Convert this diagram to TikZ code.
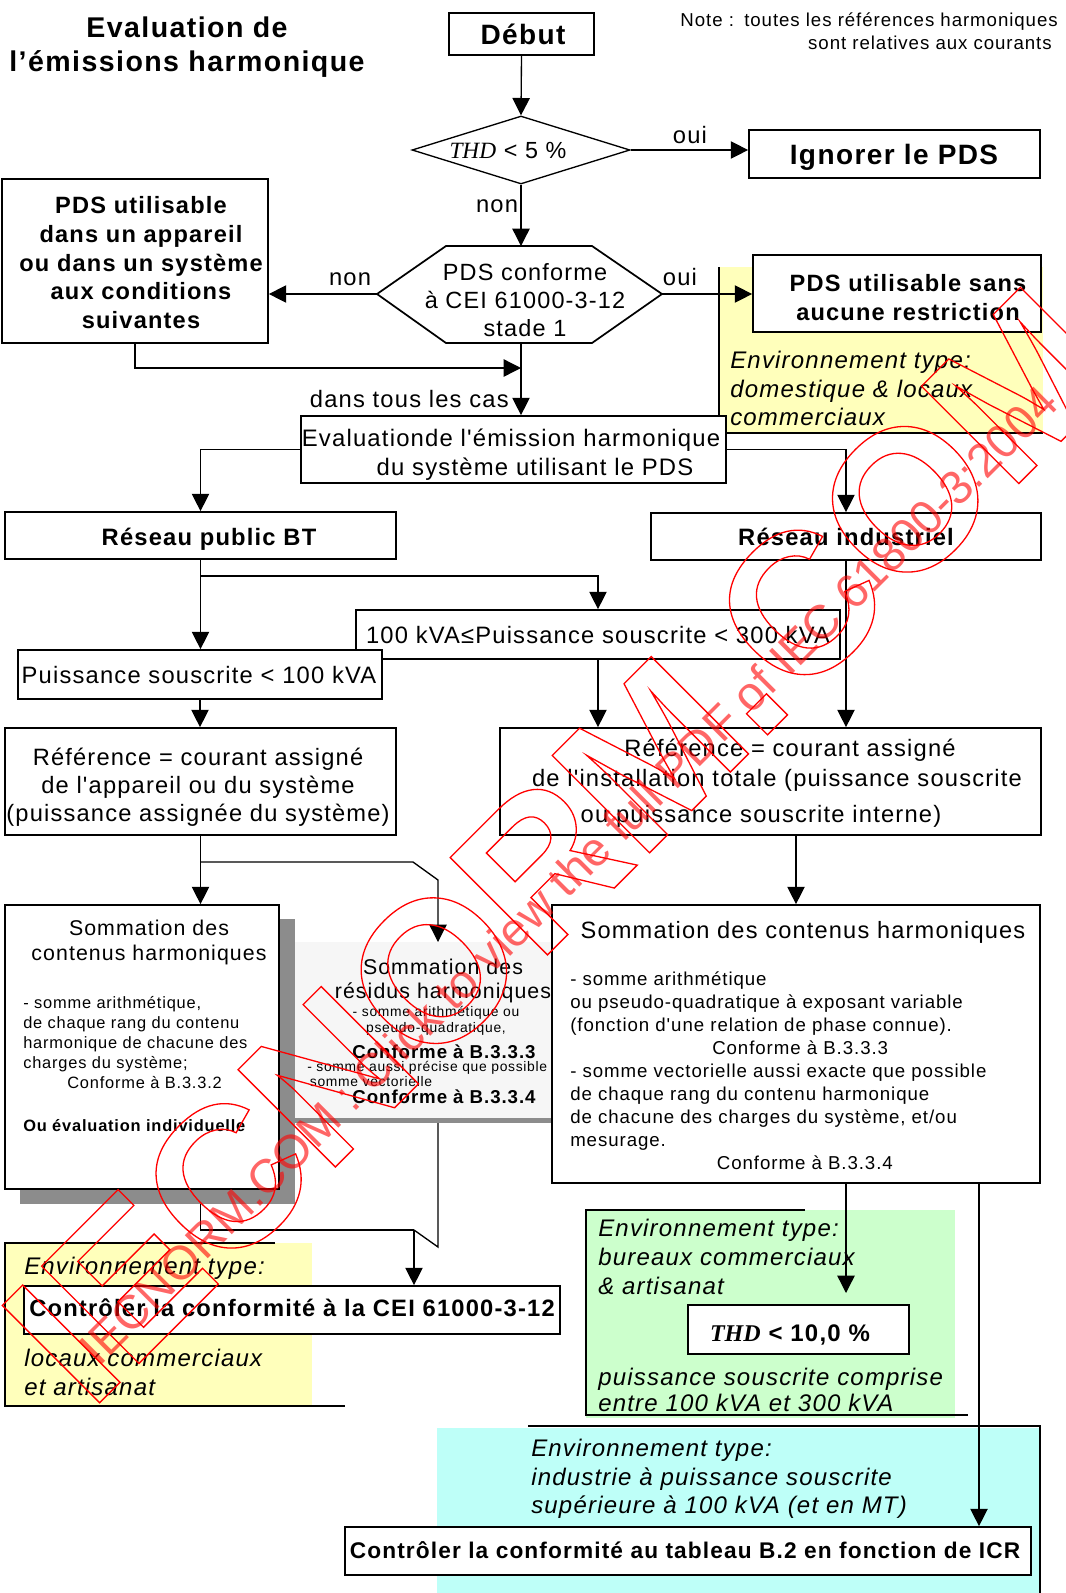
\documentclass[tikz,border=0pt]{standalone}
\usepackage{fontspec}
\usetikzlibrary{arrows.meta,shapes.geometric}
\newfontfamily\af{Liberation Sans}[LetterSpace=5]
\newfontfamily\tf{Liberation Serif}
\newfontfamily\wf{Liberation Sans}
\newfontfamily\wfo{Liberation Sans Bold}[FakeBold=0.65]
\definecolor{envyellow}{RGB}{255,255,187}
\definecolor{envgreen}{RGB}{204,255,204}
\definecolor{envcyan}{RGB}{190,255,248}
\definecolor{shadowgray}{RGB}{140,140,140}
\definecolor{pale}{RGB}{246,246,246}
\definecolor{wmred}{RGB}{255,0,0}
\pgfdeclarelayer{fills}
\pgfdeclarelayer{links}
\pgfdeclarelayer{marks}
\pgfsetlayers{fills,links,main,marks}
% rectangular box given by its corners: [options]{name}{x1}{y1}{x2}{y2}
\newcommand\rbox[6][]{%
  \node[box,#1,minimum width={(#5-#3)*0.75pt},minimum height={(#6-#4)*0.75pt}]
    (#2) at ({(#3+#5)/2},{(#4+#6)/2}) {};}
\begin{document}
\begin{tikzpicture}[x=0.75pt,y=-0.75pt,
  box/.style={draw,line width=1.3pt,fill=white,inner sep=0pt},
  link/.style={line width=1pt},
  arr/.style={link,-{Triangle[length=13pt,width=13pt]}},
  envline/.style={line width=1.2pt},
  txt/.style={inner sep=0pt,anchor=base,align=center},
  ltxt/.style={inner sep=0pt,anchor=base west,align=left},
  rtxt/.style={inner sep=0pt,anchor=base east,align=right},
  fr/.style 2 args={font=\af\fontsize{#1}{#2}\selectfont},
  fb/.style 2 args={font=\af\bfseries\fontsize{#1}{#2}\selectfont},
  fi/.style 2 args={font=\af\itshape\fontsize{#1}{#2}\selectfont},
]
\useasboundingbox (0,0) rectangle (1065,1593);

% ---------- coloured environments and shadows
\begin{pgfonlayer}{fills}
  \fill[envyellow] (719,267) rectangle (1043,433);
  \draw[envline] (719,267) -- (719,433) -- (1043,433);
  \fill[envyellow] (5,1243) rectangle (312,1406);
  \draw[envline] (275,1243) -- (5,1243) -- (5,1406) -- (345,1406);
  \fill[envgreen] (586,1210) rectangle (955,1418);
  \draw[envline] (805,1210) -- (586,1210) -- (586,1415) -- (968,1415);
  \fill[envcyan] (437,1428) rectangle (1040,1593);
  \draw[envline] (528,1426) -- (1040,1426) -- (1040,1593);
  \fill[shadowgray] (20,919) rectangle (295,1204);
  \fill[pale] (295,942) rectangle (552,1118);
  \fill[shadowgray] (295,1118) rectangle (552,1123);
\end{pgfonlayer}

% ---------- boxes
\rbox{debut}{449}{13}{594}{55}
\node[draw,diamond,line width=1pt,fill=white,inner sep=0pt,aspect=3.2,
      minimum width={218*0.75pt},minimum height={68*0.75pt}] (thd) at (521,150) {};
\rbox{ignore}{749}{130}{1040}{178}
\coordinate (hexW) at (377,294);
\coordinate (hexE) at (662,294);
\coordinate (hexN) at (521,246);
\coordinate (hexS) at (521,343);
\draw[line width=1.3pt,fill=white] (hexW) -- (446,246) -- (592,246) -- (hexE)
  -- (592,343) -- (446,343) -- cycle;
\rbox{pdsbox}{2}{179}{268}{343}
\rbox{sansbox}{753}{255}{1041}{332}
\rbox{eval}{301}{416}{726}{483}
\rbox{resBT}{5}{512}{396}{559}
\rbox{resInd}{651}{513}{1041}{560}
\rbox{p300}{356}{610}{840}{659}
\rbox{p100}{18}{650}{382}{699}
\rbox{refL}{5}{728}{396}{835}
\rbox{refR}{500}{728}{1041}{835}
\rbox{sumL}{5}{905}{279}{1189}
\rbox{sumR}{552}{905}{1040}{1183}
\rbox{ctrl}{24}{1286}{560}{1334}
\rbox{thdten}{688}{1305}{909}{1354}
\rbox{final}{345}{1527}{1031}{1575}

% ---------- connector points
\coordinate (merge) at (521,368);
\coordinate (split1) at (200.5,576);
\coordinate (split2) at (200.5,862);
\coordinate (kinkA) at (413,862);
\coordinate (kinkB) at (438,880);
\coordinate (sumMtop) at (438,942);
\coordinate (lout) at (200.5,1204);
\coordinate (lturn) at (200.5,1230);
\coordinate (mout) at (438,1123);
\coordinate (mturn) at (438,1247);
\coordinate (kinkC) at (414,1230);
\coordinate (rout1) at (846,1183);
\coordinate (thdin) at (846,1293);
\coordinate (rout2) at (979,1183);

\begin{pgfonlayer}{links}
  \draw[arr] (debut.south) -- (thd.north);
  \draw[arr] (thd.east) -- (thd.east -| ignore.west);
  \draw[arr] (thd.south) -- (hexN);
  \draw[arr] (hexW) -- (hexW -| pdsbox.east);
  \draw[arr] (hexE) -- (hexE -| sansbox.west);
  \draw[arr] (pdsbox.south) |- (merge);
  \draw[arr] (hexS) -- (hexS |- eval.north);
  \draw[arr] (eval.west) -| (resBT.north);
  \draw[arr] (eval.east) -| (resInd.north);
  \draw[arr] (resBT.south) -- (resBT.south |- p100.north);
  \draw[arr] (split1) -| (p300.north);
  \draw[arr] (p100.south) -- (p100.south |- refL.north);
  \draw[arr] (p300.south) -- (p300.south |- refR.north);
  \draw[arr] (resInd.south) -- (resInd.south |- refR.north);
  \draw[arr] (refL.south) -- (refL.south |- sumL.north);
  \draw[arr] (split2) -- (kinkA) -- (kinkB) -- (sumMtop);
  \draw[arr] (sumR.north |- refR.south) -- (sumR.north);
  \draw[link] (lout) -- (lturn) -- (kinkC);
  \draw[link] (mout) -- (mturn) -- (kinkC);
  \draw[arr] (kinkC) -- (kinkC |- ctrl.north);
  \draw[arr] (rout1) -- (thdin);
  \draw[arr] (rout2) -- (rout2 |- final.north);
\end{pgfonlayer}

% ---------- texts (multi-line nodes are placed by the baseline of their last line)
\node[txt,fb={21.4}{25.2}] (title) at (187,71.2) {Evaluation de\\l’émissions harmonique};
\node[rtxt,fr={14}{17}] (note1) at (1058,26) {Note :\hspace{0.55em}toutes les références harmoniques};
\node[rtxt,fr={14}{17}] (note2) at (1052,49) {sont relatives aux courants};
\node[txt,fb={21}{25}] (debuttxt) at (523,44) {Début};
\node[txt,fr={17.5}{20}] (thdtxt) at (508,158) {{\tf\itshape THD} < 5 \%};
\node[txt,fb={21}{25}] (ignoretxt) at (894,164) {Ignorer le PDS};
\node[txt,fr={17.8}{21}] (oui1) at (690,143) {oui};
\node[txt,fr={17.8}{21}] (non1) at (497,212) {non};
\node[txt,fr={17.8}{21}] (non2) at (350,285) {non};
\node[txt,fr={17.8}{21}] (oui2) at (680,285) {oui};
\node[txt,fr={17.6}{21}] (hextxt) at (525,336.5) {PDS conforme\\à CEI 61000-3-12\\stade 1};
\node[txt,fb={17.7}{21.6}] (pdstxt) at (141,328.7) {PDS utilisable\\dans un appareil\\ou dans un système\\aux conditions\\suivantes};
\node[txt,fb={17.7}{21.75}] (sanstxt) at (908,320.5) {PDS utilisable sans\\aucune restriction};
\node[ltxt,fi={18}{21.4}] (env1txt) at (730,425.6) {Environnement type:\\domestique \& locaux\\commerciaux};
\node[rtxt,fr={17.8}{21}] (tous) at (509,407.5) {dans tous les cas};
\node[txt,fr={17.9}{21}] (evalA) at (511,446.5) {Evaluationde l'émission harmonique};
\node[txt,fr={17.9}{21}] (evalB) at (535,475.5) {du système utilisant le PDS};
\node[txt,fb={17.8}{21}] (resBTtxt) at (209,545.5) {Réseau public BT};
\node[txt,fb={17.8}{21}] (resIndtxt) at (846,545.5) {Réseau industriel};
\node[txt,fr={17.8}{21}] (p300txt) at (598,643.5) {100 kVA≤Puissance souscrite < 300 kVA};
\node[txt,fr={17.8}{21}] (p100txt) at (199,683.5) {Puissance souscrite < 100 kVA};
\node[txt,fr={17.75}{21}] (refLtxt) at (198,821.5) {Référence = courant assigné\\de l'appareil ou du système\\(puissance assignée du système)};
\node[txt,fr={17.8}{21}] (refRa) at (790,756.5) {Référence = courant assigné};
\node[txt,fr={17.8}{21}] (refRb) at (777,786.5) {de l'installation totale (puissance souscrite};
\node[txt,fr={17.8}{21}] (refRc) at (761,822.5) {ou puissance souscrite interne)};

\node[txt,fr={16}{18.75}] (sumLt) at (149,960.6) {Sommation des\\contenus harmoniques};
\node[ltxt,fr={12.3}{15}] (sumLb) at (23,1088) {- somme arithmétique,\\de chaque rang du contenu\\harmonique de chacune des\\charges du système;\\\hspace*{33pt}Conforme à B.3.3.2};
\node[ltxt,fb={12.3}{15}] (sumLc) at (23,1131) {Ou évaluation individuelle};

\node[txt,fr={16}{18}] (sumMt) at (443,998.6) {Sommation des\\résidus harmoniques};
\node[txt,fr={10.4}{12}] (sumMa) at (436,1032) {- somme arithmétique ou\\pseudo-quadratique,};
\node[txt,fb={14}{16}] (sumMb) at (444,1058.7) {Conforme à B.3.3.3};
\node[ltxt,fr={10.4}{11.25}] (sumMc) at (307,1086) {- somme aussi précise que possible\\\hspace*{2pt}somme vectorielle};
\node[txt,fb={14}{16}] (sumMd) at (444,1103.7) {Conforme à B.3.3.4};

\node[txt,fr={17.7}{21}] (sumRt) at (803,938.5) {Sommation des contenus harmoniques};
\node[ltxt,fr={14}{17.2}] (sumRb) at (570,1169.2) {- somme arithmétique\\ou pseudo-quadratique à exposant variable\\(fonction d'une relation de phase connue).\\\hspace*{106.5pt}Conforme à B.3.3.3\\- somme vectorielle aussi exacte que possible\\de chaque rang du contenu harmonique\\de chacune des charges du système, et/ou\\mesurage.\\\hspace*{110pt}Conforme à B.3.3.4};

\node[ltxt,fi={18}{21.75}] (env2a) at (24,1274.5) {Environnement type:};
\node[txt,fb={17.8}{21}] (ctrltxt) at (292,1316.5) {Contrôler la conformité à la CEI 61000-3-12};
\node[ltxt,fi={18}{21.75}] (env2b) at (24,1395.5) {locaux commerciaux\\et artisanat};
\node[ltxt,fi={18}{21.75}] (env3a) at (598,1294.5) {Environnement type:\\bureaux commerciaux\\\& artisanat};
\node[txt,fb={18}{21}] (thdtentxt) at (790,1341.5) {{\tf\itshape THD} < 10,0 \%};
\node[ltxt,fi={18}{19.5}] (env3b) at (598,1411.5) {puissance souscrite comprise\\entre 100 kVA et 300 kVA};
\node[ltxt,fi={18}{21.4}] (env4) at (531,1513.6) {Environnement type:\\industrie à puissance souscrite\\supérieure à 100 kVA (et en MT)};
\node[txt,fb={17}{21}] (finaltxt) at (685,1558.5) {Contrôler la conformité au tableau B.2 en fonction de ICR};

% ---------- diagonal marking
\begin{pgfonlayer}{marks}
  \node[rotate=45,inner sep=0pt,text=wmred,
        font=\wfo\fontsize{150}{150}\selectfont] (wmbig) at (560,845)
    {\pgfsetfillopacity{0}IECNORM.COM};
  \node[rotate=45,inner sep=0pt,text=wmred,text opacity=0.6,
        font=\wf\fontsize{35.5}{36}\selectfont] (wmline) at (568,875)
    {IECNORM.COM : Click to view the full PDF of IEC 61800-3:2004};
\end{pgfonlayer}
\end{tikzpicture}
\end{document}
